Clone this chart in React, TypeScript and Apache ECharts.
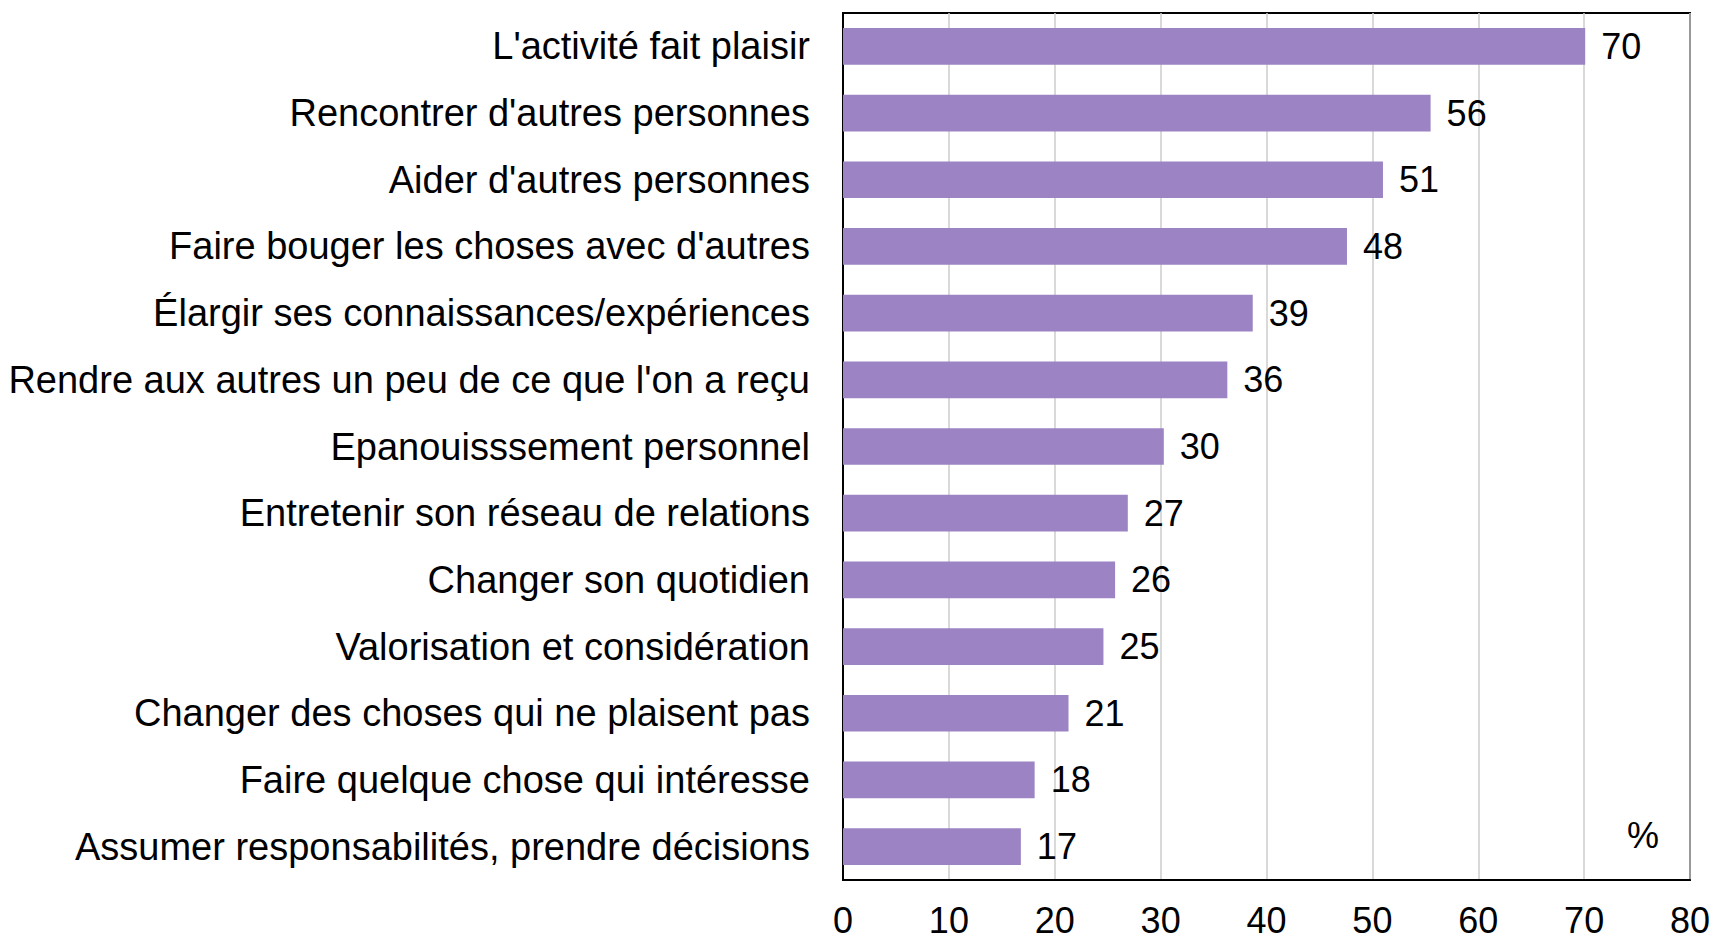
import React, { useEffect, useRef } from "react";
import * as echarts from "echarts";

const categories = [
  "L'activité fait plaisir",
  "Rencontrer d'autres personnes",
  "Aider d'autres personnes",
  "Faire bouger les choses avec d'autres",
  "Élargir ses connaissances/expériences",
  "Rendre aux autres un peu de ce que l'on a reçu",
  "Epanouisssement personnel",
  "Entretenir son réseau de relations",
  "Changer son quotidien",
  "Valorisation et considération",
  "Changer des choses qui ne plaisent pas",
  "Faire quelque chose qui intéresse",
  "Assumer responsabilités, prendre décisions",
];

const values = [70.1, 55.5, 51.0, 47.6, 38.7, 36.3, 30.3, 26.9, 25.7, 24.6, 21.3, 18.1, 16.8];

const xTicks = [0, 10, 20, 30, 40, 50, 60, 70, 80];
const unitLabel = "%";

const FONT = "'Liberation Sans', Arial, Helvetica, sans-serif";

export default function App() {
  const ref = useRef<HTMLDivElement>(null);

  useEffect(() => {
    if (!ref.current) return;
    const chart = echarts.init(ref.current, undefined, { renderer: "svg" });
    chart.setOption({
      animation: false,
      backgroundColor: "#ffffff",
      grid: {
        left: 843,
        right: 24,
        top: 13,
        bottom: 60,
        show: true,
        borderColor: "#000000",
        borderWidth: 2,
        containLabel: false,
      },
      xAxis: {
        type: "value",
        min: xTicks[0],
        max: xTicks[xTicks.length - 1],
        interval: 10,
        axisLine: { show: true, lineStyle: { color: "#000000", width: 2 } },
        axisTick: { show: false },
        splitLine: { show: true, lineStyle: { color: "#cccccc", width: 1.5 } },
        axisLabel: {
          color: "#000000",
          fontSize: 36,
          fontFamily: FONT,
          margin: 22,
        },
      },
      yAxis: {
        type: "category",
        data: categories,
        inverse: true,
        axisLine: { show: true, lineStyle: { color: "#000000", width: 2 } },
        axisTick: { show: false },
        axisLabel: {
          color: "#000000",
          fontSize: 38,
          fontFamily: FONT,
          margin: 33,
        },
      },
      series: [
        {
          type: "bar",
          data: values,
          barCategoryGap: "45%",
          itemStyle: { color: "#9b83c4" },
          label: {
            show: true,
            position: "right",
            distance: 16,
            color: "#000000",
            fontSize: 36,
            fontFamily: FONT,
            formatter: (p: any) => String(Math.round(p.value)),
          },
        },
      ],
      graphic: [
        {
          type: "text",
          left: 1627,
          top: 817,
          style: {
            text: unitLabel,
            fill: "#000000",
            fontSize: 36,
            fontFamily: FONT,
          },
        },
      ],
    });
    return () => chart.dispose();
  }, []);

  return (
    <div
      ref={ref}
      style={{ position: "fixed", left: 0, top: 0, width: "1714px", height: "940px" }}
    />
  );
}
